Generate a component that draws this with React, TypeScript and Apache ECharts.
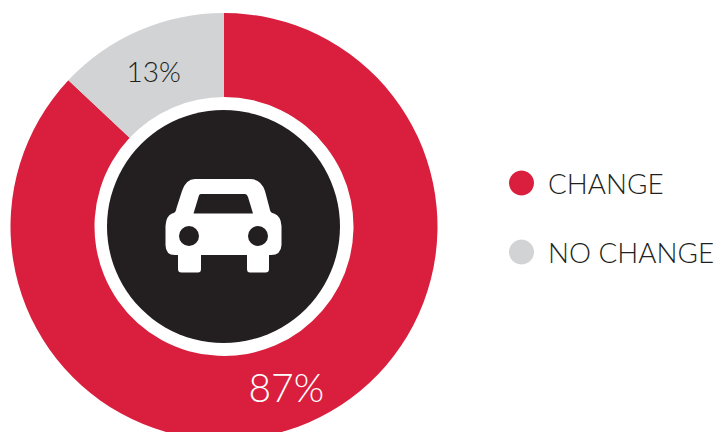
import React, { useEffect, useRef } from "react";
import * as echarts from "echarts";

const categories = ["CHANGE", "NO CHANGE"];
const shares = [87, 13];
const sliceColors = ["#D91F3D", "#D1D3D4"];
const labelColors = ["#FFFFFF", "#231F20"];
const labelSizes = [39, 28];

// Front view of a car; the window and wheel holes wind opposite to the body.
const carPath =
  "M195 179 L250 179 Q261 179 265 191 L269.5 208 Q270 213 274 213.5 Q281 216 281.5 226 L281.5 245 Q281 255 271 255 L269 255 L269 269 Q269 272.5 265.5 272.5 L250 272.5 Q247 272.5 247 269 L247 255 L201 255 L201 269 Q201 272.5 198 272.5 L181.5 272.5 Q178 272.5 178 269 L178 255 L175 255 Q165.5 255 165.5 245 L165.5 226 Q166 216 172 213.5 Q176 213 176.5 208 L182 191 Q186 179 195 179 Z " +
  "M201 194 Q199 194 198.5 197 L193.5 213.5 L253 213.5 L248 197 Q247 194 245 194 Z " +
  "M179 236 A10 10 0 0 0 199 236 A10 10 0 0 0 179 236 Z " +
  "M248 236 A10 10 0 0 0 268 236 A10 10 0 0 0 248 236 Z";

echarts.graphic.registerShape("carIcon", echarts.graphic.extendPath(carPath, {}));

export default function App() {
  const ref = useRef<HTMLDivElement>(null);

  useEffect(() => {
    document.body.style.margin = "0";
    const chart = echarts.init(ref.current!, null, { renderer: "svg" });
    chart.setOption({
      animation: false,
      backgroundColor: "#FFFFFF",
      legend: {
        orient: "vertical",
        left: 509,
        top: 169,
        padding: 0,
        itemWidth: 25,
        itemHeight: 25,
        itemGap: 41,
        icon: "circle",
        selectedMode: false,
        data: categories,
        textStyle: {
          fontFamily: "Lato",
          fontWeight: 300,
          fontSize: 27.8,
          color: "#231F20",
          padding: [0, 0, 0, 9],
        },
      },
      series: [
        {
          type: "pie",
          center: [224, 226.5],
          radius: [129.5, 213.5],
          startAngle: 90,
          clockwise: true,
          silent: true,
          labelLine: { show: false },
          data: categories.map((name, i) => ({
            name,
            value: shares[i],
            itemStyle: { color: sliceColors[i] },
            label: {
              show: true,
              position: "inside",
              rotate: 0,
              formatter: "{c}%",
              fontFamily: "Lato",
              fontWeight: 300,
              fontSize: labelSizes[i],
              color: labelColors[i],
              offset: i === 0 ? [-7, 0] : [-1, 5],
            },
          })),
        },
      ],
      graphic: [
        {
          type: "circle",
          silent: true,
          shape: { cx: 223.5, cy: 226.5, r: 116.5 },
          style: { fill: "#231F20" },
        },
        {
          type: "carIcon",
          silent: true,
          x: 0,
          y: 0,
          style: { fill: "#FFFFFF" },
        },
      ],
    });
    return () => chart.dispose();
  }, []);

  return <div ref={ref} style={{ width: 717, height: 432 }} />;
}
